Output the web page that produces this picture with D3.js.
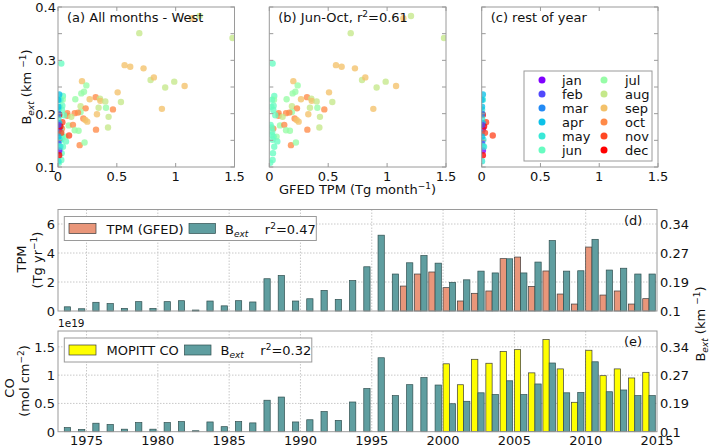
<!DOCTYPE html>
<html><head><meta charset="utf-8">
<script src="https://cdn.jsdelivr.net/npm/d3@7"></script>
<style>
body{margin:0;background:#fff}
text{font-family:"DejaVu Sans",sans-serif;fill:#111}
</style>
</head><body>
<svg id="c" width="709" height="447"></svg>
<script>
// ---------------- DATA ----------------
const monthNames = ["jan","feb","mar","apr","may","jun","jul","aug","sep","oct","nov","dec"];
const monthColors = ["#8000ff","#5148fc","#238af5","#0cc1e8","#3ae8d7","#68fcc1","#97fca7","#c5e88a","#f3c16a","#ff8a48","#ff4824","#ff0000"];

// Jun-Oct scatter points: month index, GFED TPM, B_ext
const junOctMonth = [7,8,7,7,5,8,8,8,7,8,7,7,8,8,6,6,6,8,6,9,7,8,7,7,8,5,6,5,7,7,6,9,8,9,6,9,9,9,9,7,8,7,9,8,8,6,9,9,6,6,9,7,6,9,6,
  5,5,5,5,5,5,5,5,5,5,5,5,5,5,5];
const junOctTPM = [1.203,1.138,0.691,1.483,0.028,0.566,0.614,0.727,0.787,0.815,0.988,0.911,1.076,0.204,0.241,0.198,0.221,0.507,0.147,0.32,0.357,0.36,0.402,0.535,0.269,0.042,0.04,0.037,0.192,0.345,0.408,0.467,0.883,0.235,0.192,0.079,0.079,0.142,0.17,0.113,0.331,0.43,0.215,0.232,0.249,0.091,0.127,0.034,0.142,0.175,0.323,0.425,0.062,0.184,0.226,
  0.011,0.02,0.025,0.02,0.037,0.028,0.068,0.042,0.031,0.028,0.008,0.023,0.017,0.034,0.051];
const junOctBext = [0.383,0.379,0.351,0.342,0.294,0.291,0.288,0.285,0.263,0.268,0.26,0.249,0.252,0.261,0.253,0.238,0.241,0.24,0.227,0.231,0.228,0.224,0.223,0.222,0.227,0.233,0.226,0.215,0.214,0.211,0.211,0.208,0.209,0.21,0.203,0.201,0.196,0.201,0.202,0.194,0.199,0.194,0.191,0.188,0.185,0.178,0.179,0.172,0.169,0.168,0.17,0.174,0.157,0.141,0.146,
  0.179,0.174,0.166,0.16,0.157,0.151,0.148,0.138,0.126,0.113,0.108,0.226,0.213,0.207,0.197];

// Rest-of-year scatter points
const restMonth = [3,4,4,3,11,10,4,0,2,10,10,4,3,1,4,0,11,4,3,2,11,1,4,3];
const restTPM = [0.01,0.01,0.003,0.003,0.01,0.037,0.003,0.01,0.0,0.028,0.094,0.014,0.003,0.003,0.01,0.01,0.01,0.003,0.01,0.003,0.02,0.003,0.02,0.0];
const restBext = [0.236,0.226,0.208,0.213,0.198,0.184,0.191,0.171,0.164,0.164,0.159,0.151,0.157,0.144,0.139,0.131,0.122,0.111,0.182,0.2,0.176,0.179,0.138,0.226];

// Annual series
const bextYears = [1973,1974,1975,1976,1977,1978,1979,1980,1981,1982,1983,1984,1985,1986,1987,1988,1989,1990,1991,1992,1993,1994,1995,1996,1997,1998,1999,2000,2001,2002,2003,2004,2005,2006,2007,2008,2009,2010,2011,2012,2013,2014];
const bextValues = [0.113,0.107,0.127,0.123,0.108,0.129,0.108,0.129,0.132,0.103,0.131,0.116,0.132,0.128,0.199,0.208,0.131,0.138,0.164,0.136,0.194,0.232,0.313,0.212,0.243,0.263,0.242,0.189,0.196,0.220,0.215,0.254,0.215,0.245,0.300,0.220,0.221,0.303,0.223,0.228,0.212,0.212];
const tpmYears = [1997,1998,1999,2000,2001,2002,2003,2004,2005,2006,2007,2008,2009,2010,2011,2012,2013,2014];
const tpmValues = [1.72,2.55,2.69,1.61,0.69,1.22,1.38,3.61,3.72,1.70,2.76,1.17,0.48,4.41,1.10,1.38,0.48,0.85];
const coYears = [2000,2001,2002,2003,2004,2005,2006,2007,2008,2009,2010,2011,2012,2013,2014];
const coValues = [1.20,0.83,1.28,1.21,1.42,1.45,1.04,1.63,1.11,0.52,1.44,0.99,1.11,0.95,1.05]; // x1e19

// tick labels
const scatterXTicks = [0,0.5,1,1.5];
const scatterXTickLabels = ["0","0.5","1","1.5"];
const scatterYTicks = [0.1,0.2,0.3,0.4];
const tpmTicks = [0,2,4,6];
const coTicks = [0,0.5,1,1.5];
const coTickLabels = ["0","0.5","1","1.5"];
const bextTicks = [0.1,0.19,0.27,0.34];
const yearTicks = [1975,1980,1985,1990,1995,2000,2005,2010,2015];

// ---------------- DRAW ----------------
const svg = d3.select("#c");
const frameColor = "#9a9a9a";
const bextLabel = 'B<tspan font-size="9" font-style="italic" dy="3">ext</tspan><tspan dy="-3"> (km </tspan><tspan font-size="9" dy="-5">−1</tspan><tspan dy="5">)</tspan>';

// ---- scatter panels ----
const sy = d3.scaleLinear().domain([0.1,0.4]).range([167,7]);
const allMonth = junOctMonth.concat(restMonth);
const allTPM = junOctTPM.concat(restTPM);
const allBext = junOctBext.concat(restBext);
const panels = [
  {x0:58, x1:234.5, m:allMonth, xs:allTPM, ys:allBext, title:"(a) All months - West", ylab:true},
  {x0:269.3, x1:446, m:junOctMonth, xs:junOctTPM, ys:junOctBext, title:'(b) Jun-Oct, r<tspan font-size="9" dy="-5">2</tspan><tspan dy="5">=0.61</tspan>'},
  {x0:481.7, x1:658, m:restMonth, xs:restTPM, ys:restBext, title:"(c) rest of year"}
];
const defs = svg.append("defs");
panels.forEach((p,pi)=>{
  const sx = d3.scaleLinear().domain([0,1.5]).range([p.x0,p.x1]);
  const g = svg.append("g");
  defs.append("clipPath").attr("id","cp"+pi).append("rect")
    .attr("x",p.x0).attr("y",7).attr("width",p.x1-p.x0).attr("height",160);
  const pts = g.append("g").attr("clip-path","url(#cp"+pi+")");
  p.xs.forEach((v,i)=>{
    pts.append("circle").attr("cx",sx(v)).attr("cy",sy(p.ys[i])).attr("r",3.2)
      .attr("fill",monthColors[p.m[i]]).attr("fill-opacity",0.78);
  });
  // ticks
  d3.range(0.1,0.4001,0.05).forEach(t=>{
    g.append("line").attr("x1",p.x0).attr("x2",p.x0+4).attr("y1",sy(t)).attr("y2",sy(t)).attr("stroke",frameColor);
    g.append("line").attr("x1",p.x1).attr("x2",p.x1-4).attr("y1",sy(t)).attr("y2",sy(t)).attr("stroke",frameColor);
  });
  scatterXTicks.forEach((t,i)=>{
    g.append("line").attr("x1",sx(t)).attr("x2",sx(t)).attr("y1",167).attr("y2",163).attr("stroke",frameColor);
    g.append("line").attr("x1",sx(t)).attr("x2",sx(t)).attr("y1",7).attr("y2",11).attr("stroke",frameColor);
    g.append("text").attr("x",sx(t)).attr("y",180.5).attr("text-anchor","middle").attr("font-size",13).text(scatterXTickLabels[i]);
  });
  g.append("rect").attr("x",p.x0).attr("y",7).attr("width",p.x1-p.x0).attr("height",160)
    .attr("fill","none").attr("stroke",frameColor).attr("stroke-width",1);
  g.append("text").attr("x",p.x0+9).attr("y",22).attr("font-size",13).html(p.title);
  if(p.ylab){
    scatterYTicks.forEach(t=>{
      g.append("text").attr("x",p.x0-2).attr("y",sy(t)+5).attr("text-anchor","end").attr("font-size",13).text(t.toFixed(1));
    });
  }
});
svg.append("text").attr("transform","translate(31,87) rotate(-90)").attr("text-anchor","middle")
  .attr("font-size",13).html(bextLabel);
svg.append("text").attr("x",357.5).attr("y",194).attr("text-anchor","middle").attr("font-size",13)
  .html('GFED TPM (Tg month<tspan font-size="9" dy="-5">−1</tspan><tspan dy="5">)</tspan>');

// legend (c)
const lg = svg.append("g");
lg.append("rect").attr("x",524).attr("y",71).attr("width",128).attr("height",90).attr("fill","#fff").attr("stroke",frameColor);
monthNames.forEach((m,i)=>{
  const col = Math.floor(i/6), row = i%6;
  const mx = col? 604:542, ty = 80+row*14;
  lg.append("circle").attr("cx",mx).attr("cy",ty).attr("r",3.5).attr("fill",monthColors[i]);
  lg.append("text").attr("x",col?625:562).attr("y",ty+4.5).attr("font-size",13).text(m);
});

// ---- bar panels ----
const bx = d3.scaleLinear().domain([1973,2015]).range([58,657]);
const barW = 0.44;

function barPanel(top, bottom, leftMax, leftTicks, leftLabels, secYears, secValues, secColor, legendText, r2, tag){
  const yL = d3.scaleLinear().domain([0,leftMax]).range([bottom,top]);
  const yR = d3.scaleLinear().domain(bextTicks).range(leftTicks.map(t=>yL(t)));
  const g = svg.append("g");
  // grid
  leftTicks.forEach(t=>{
    if(t>0) g.append("line").attr("x1",58).attr("x2",657).attr("y1",yL(t)).attr("y2",yL(t))
      .attr("stroke","#c8c8c8").attr("stroke-dasharray","1.5,1.5");
  });
  yearTicks.forEach(t=>{
    if(t<2015) g.append("line").attr("x1",bx(t)).attr("x2",bx(t)).attr("y1",top).attr("y2",bottom)
      .attr("stroke","#c8c8c8").attr("stroke-dasharray","1.5,1.5");
  });
  // secondary series bars (left axis)
  secYears.forEach((yr,i)=>{
    g.append("rect").attr("x",bx(yr)).attr("width",bx(yr+barW)-bx(yr))
      .attr("y",yL(secValues[i])).attr("height",bottom-yL(secValues[i]))
      .attr("fill",secColor).attr("stroke","#3a3a3a").attr("stroke-width",0.7);
  });
  // B_ext bars (right axis)
  bextYears.forEach((yr,i)=>{
    g.append("rect").attr("x",bx(yr+barW)).attr("width",bx(yr+2*barW)-bx(yr+barW))
      .attr("y",yR(bextValues[i])).attr("height",bottom-yR(bextValues[i]))
      .attr("fill","#5f9ea0").attr("stroke","#2f4f4f").attr("stroke-width",0.7);
  });
  g.append("rect").attr("x",58).attr("y",top).attr("width",599).attr("height",bottom-top)
    .attr("fill","none").attr("stroke",frameColor);
  leftTicks.forEach((t,i)=>{
    g.append("text").attr("x",55).attr("y",yL(t)+5).attr("text-anchor","end").attr("font-size",13).text(leftLabels[i]);
  });
  bextTicks.forEach(t=>{
    g.append("text").attr("x",660).attr("y",yR(t)+5).attr("font-size",13).text(String(t));
  });
  g.append("text").attr("x",624).attr("y",top+15).attr("font-size",13).text(tag);
  // legend
  const lx = 64.3, ly = top+7;
  const wBox = legendText==="TPM (GFED)"?252:247.5;
  g.append("rect").attr("x",lx).attr("y",ly).attr("width",wBox).attr("height",24)
    .attr("fill","#fff").attr("stroke",frameColor);
  g.append("rect").attr("x",69).attr("y",ly+7).attr("width",27).attr("height",10)
    .attr("fill",secColor).attr("stroke","#3a3a3a").attr("stroke-width",0.7);
  g.append("text").attr("x",106.5).attr("y",ly+17).attr("font-size",13).text(legendText);
  const tx = legendText==="TPM (GFED)"?189:184.5;
  g.append("rect").attr("x",tx).attr("y",ly+7).attr("width",26.5).attr("height",10)
    .attr("fill","#5f9ea0").attr("stroke","#2f4f4f").attr("stroke-width",0.7);
  g.append("text").attr("x",tx+36).attr("y",ly+17).attr("font-size",13)
    .html('B<tspan font-size="9" font-style="italic" dy="3">ext</tspan><tspan dy="-3" xml:space="preserve">    r</tspan><tspan font-size="9" dy="-5">2</tspan><tspan dy="5">='+r2+'</tspan>');
  return g;
}

barPanel(209.5, 311, 7, tpmTicks, tpmTicks.map(String), tpmYears, tpmValues, "#e9967a", "TPM (GFED)", "0.47", "(d)");
barPanel(331, 431.7, 1.78, coTicks, coTickLabels, coYears, coValues, "#ffff00", "MOPITT CO", "0.32", "(e)");
yearTicks.forEach(t=>{
  svg.append("text").attr("x",bx(t)).attr("y",445).attr("text-anchor","middle").attr("font-size",13).text(String(t));
});
svg.append("text").attr("x",58).attr("y",327).attr("font-size",10.5).text("1e19");

// axis labels for bar panels
svg.append("text").attr("transform","translate(26,259) rotate(-90)").attr("text-anchor","middle").attr("font-size",13).text("TPM");
svg.append("text").attr("transform","translate(42,260) rotate(-90)").attr("text-anchor","middle").attr("font-size",13)
  .html('(Tg yr<tspan font-size="9" dy="-5">−1</tspan><tspan dy="5">)</tspan>');
svg.append("text").attr("transform","translate(14,388) rotate(-90)").attr("text-anchor","middle").attr("font-size",13).text("CO");
svg.append("text").attr("transform","translate(29,381) rotate(-90)").attr("text-anchor","middle").attr("font-size",13)
  .html('(mol cm<tspan font-size="9" dy="-5">−2</tspan><tspan dy="5">)</tspan>');
svg.append("text").attr("transform","translate(705,324) rotate(-90)").attr("text-anchor","middle").attr("font-size",13)
  .html(bextLabel);
</script>
</body></html>
